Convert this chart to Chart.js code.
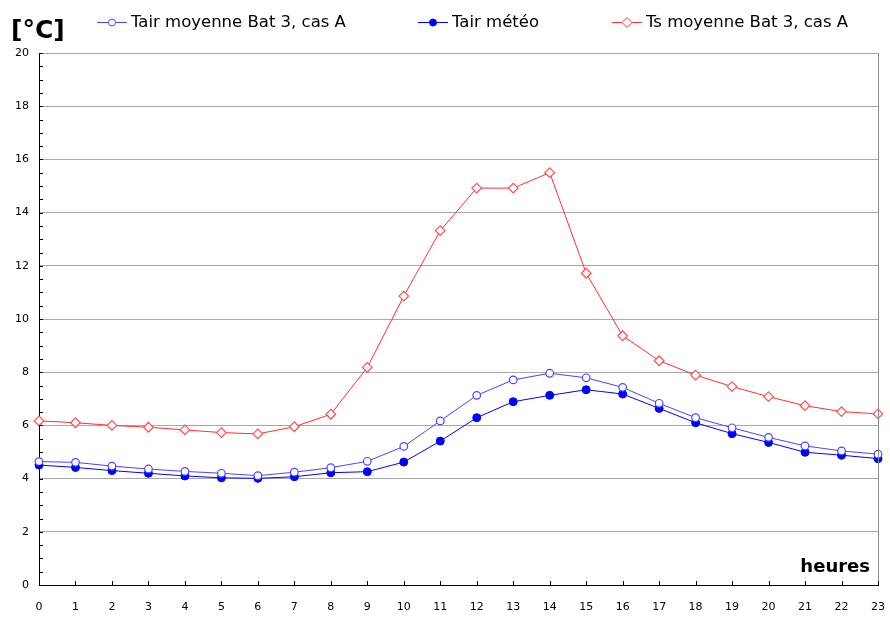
<!DOCTYPE html>
<html>
<head>
<meta charset="utf-8">
<script src="https://cdn.jsdelivr.net/npm/chart.js@4"></script>
<style>
  html, body { margin: 0; padding: 0; background: #fff; }
  #wrap { width: 890px; height: 618px; }
</style>
</head>
<body>
<div id="wrap"><canvas id="myChart" width="890" height="618"></canvas></div>
<script>
const hours = [0,1,2,3,4,5,6,7,8,9,10,11,12,13,14,15,16,17,18,19,20,21,22,23];
const tairMoyenne = [4.64,4.61,4.47,4.36,4.27,4.20,4.11,4.24,4.41,4.65,5.21,6.17,7.13,7.71,7.96,7.79,7.43,6.83,6.29,5.91,5.55,5.23,5.04,4.92];
const tairMeteo = [4.51,4.42,4.30,4.20,4.10,4.03,4.01,4.07,4.22,4.26,4.62,5.41,6.29,6.89,7.13,7.34,7.18,6.64,6.10,5.69,5.36,4.99,4.88,4.75];
const tsMoyenne = [6.17,6.10,6.00,5.93,5.83,5.73,5.68,5.95,6.42,8.18,10.86,13.32,14.92,14.92,15.50,11.72,9.37,8.43,7.89,7.46,7.08,6.74,6.52,6.43];
const seriesNames = ['Tair moyenne Bat 3, cas A', 'Tair météo', 'Ts moyenne Bat 3, cas A'];
const yTicks = [0,2,4,6,8,10,12,14,16,18,20];

const fontName = '"DejaVu Sans", Lato, sans-serif';
const blueLight = '#4646ff';
const blue = '#0000ff';
const red = '#ff3030';

function toPoints(vals){
    return vals.map((v, i) => ({x: hours[i], y: v}));
}

// legend, unit label, axis title, small ticks and right frame
const extras = {
    id: 'extras',
    afterDraw(chart){
        const c = chart.ctx;
        const xs = chart.scales.x, ys = chart.scales.y;
        const a = chart.chartArea;
        c.save();
        // right frame
        c.strokeStyle = '#8a8a8a';
        c.lineWidth = 1;
        c.beginPath();
        c.moveTo(a.right + 0.5, a.top);
        c.lineTo(a.right + 0.5, a.bottom);
        c.stroke();
        // small ticks on y axis every 0.5
        c.strokeStyle = '#000';
        c.beginPath();
        for(let v = 0; v <= 20; v += 0.5){
            const py = Math.round(ys.getPixelForValue(v)) + 0.5;
            c.moveTo(a.left, py);
            c.lineTo(a.left + 4, py);
        }
        // small ticks on x axis each hour
        for(let h = 0; h <= 23; h++){
            const px = Math.round(xs.getPixelForValue(h)) + 0.5;
            c.moveTo(px, a.bottom);
            c.lineTo(px, a.bottom - 4);
        }
        c.stroke();

        // unit and axis title
        c.fillStyle = '#000';
        c.textBaseline = 'alphabetic';
        c.textAlign = 'left';
        c.font = 'bold 25px ' + fontName;
        c.fillText('[°C]', 11, 38);
        c.textAlign = 'right';
        c.font = 'bold 18px ' + fontName;
        c.fillText('heures', 870, 572);

        // legend
        const items = [
            {x: 97, color: blueLight, style: 'open'},
            {x: 418, color: blue, style: 'filled'},
            {x: 612, color: red, style: 'diamond'}
        ];
        c.font = '16.5px ' + fontName;
        c.textAlign = 'left';
        c.textBaseline = 'middle';
        items.forEach((it, i) => {
            const ly = 22.5;
            c.strokeStyle = it.color;
            c.lineWidth = 1;
            c.beginPath();
            c.moveTo(it.x, ly);
            c.lineTo(it.x + 30, ly);
            c.stroke();
            const mx = it.x + 15;
            c.beginPath();
            if(it.style === 'diamond'){
                c.moveTo(mx, ly - 5);
                c.lineTo(mx + 5, ly);
                c.lineTo(mx, ly + 5);
                c.lineTo(mx - 5, ly);
                c.closePath();
                c.fillStyle = '#fff';
            } else {
                c.arc(mx, ly, 3.5, 0, Math.PI * 2);
                c.fillStyle = it.style === 'filled' ? it.color : '#fff';
            }
            c.fill();
            c.stroke();
            c.fillStyle = '#000';
            c.fillText(seriesNames[i], it.x + 34, ly);
        });
        c.restore();
    }
};

const ctx = document.getElementById('myChart').getContext('2d');
const data = {
    datasets: [{
        label: seriesNames[0],
        data: toPoints(tairMoyenne),
        borderColor: blueLight,
        backgroundColor: '#fff',
        borderWidth: 1,
        pointStyle: 'circle',
        pointRadius: 3.8,
        pointBorderWidth: 1.2,
        pointBackgroundColor: '#fff',
        pointBorderColor: blueLight
    }, {
        label: seriesNames[1],
        data: toPoints(tairMeteo),
        borderColor: blue,
        backgroundColor: blue,
        borderWidth: 1,
        pointStyle: 'circle',
        pointRadius: 4,
        pointBorderWidth: 1,
        pointBackgroundColor: blue,
        pointBorderColor: blue
    }, {
        label: seriesNames[2],
        data: toPoints(tsMoyenne),
        borderColor: red,
        backgroundColor: '#fff',
        borderWidth: 1,
        pointStyle: 'rectRot',
        pointRadius: 4.8,
        pointBorderWidth: 1.2,
        pointBackgroundColor: '#fff',
        pointBorderColor: '#ff5050'
    }]
};
const options = {
    responsive: false,
    animation: false,
    clip: false,
    layout: {
        padding: {left: 0, right: 12, top: 53, bottom: 0}
    },
    plugins: {
        legend: {display: false},
        tooltip: {enabled: false}
    },
    scales: {
        x: {
            type: 'linear',
            min: 0,
            max: 23,
            afterFit(scale){
                scale.height = 33;
                scale.paddingLeft = 0;
                scale.paddingRight = 0;
            },
            afterBuildTicks(scale){ scale.ticks = hours.map(h => ({value: h})); },
            grid: {display: false, drawTicks: false},
            border: {display: true, color: '#000', width: 1},
            ticks: {
                color: '#000',
                font: {family: fontName, size: 11},
                padding: 16,
                maxRotation: 0,
                autoSkip: false
            }
        },
        y: {
            min: 0,
            max: 20,
            afterFit(scale){
                scale.width = 39;
                scale.paddingTop = 0;
                scale.paddingBottom = 0;
            },
            afterBuildTicks(scale){ scale.ticks = yTicks.map(v => ({value: v})); },
            grid: {color: '#a8a8a8', lineWidth: 1, drawTicks: false},
            border: {display: true, color: '#000', width: 1},
            ticks: {
                color: '#000',
                font: {family: fontName, size: 11},
                padding: 10
            }
        }
    }
};

let config = {
    type: 'line',
    data: data,
    options: options,
    plugins: [extras]
};

let graph = new Chart(ctx, config);
</script>
</body>
</html>
